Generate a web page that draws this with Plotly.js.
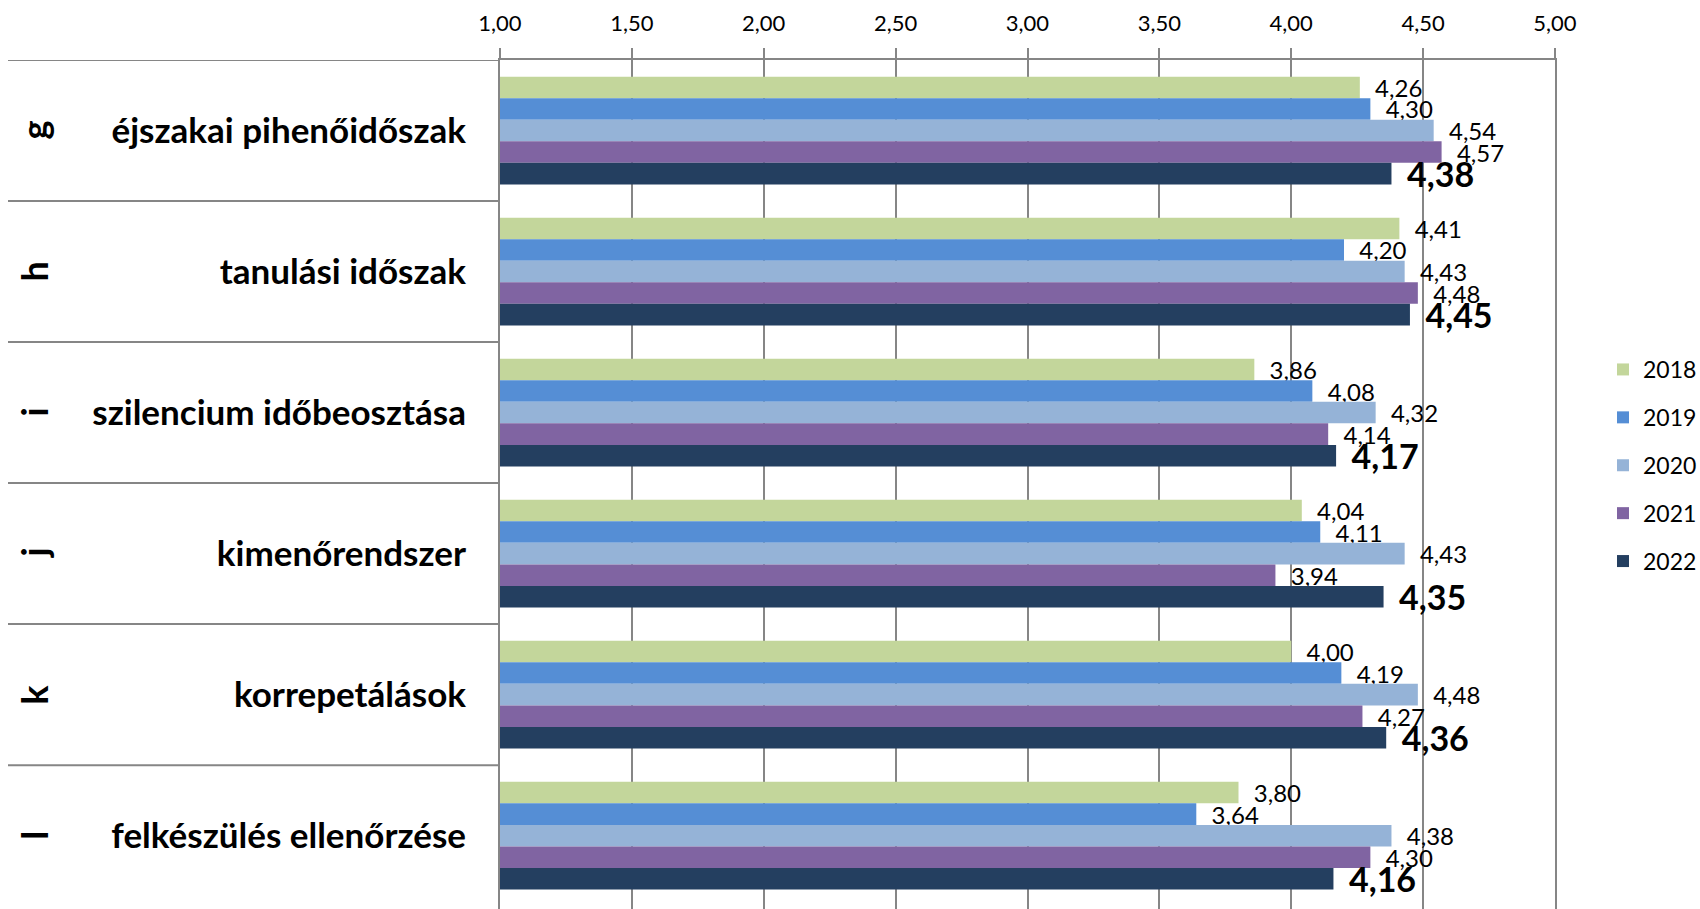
<!DOCTYPE html>
<html>
<head>
<meta charset="utf-8">
<script src="https://cdn.plot.ly/plotly-3.0.1.min.js"></script>
<style>html,body{margin:0;padding:0;background:#fff}#chart{width:1700px;height:909px}</style>
</head>
<body>
<div id="chart"></div>
<script>
const categories = ['éjszakai pihenőidőszak','tanulási időszak','szilencium időbeosztása','kimenőrendszer','korrepetálások','felkészülés ellenőrzése'];
const letters = ['g','h','i','j','k','l'];
const years = ['2018','2019','2020','2021','2022'];
const v2018 = [4.26,4.41,3.86,4.04,4.00,3.80];
const v2019 = [4.30,4.20,4.08,4.11,4.19,3.64];
const v2020 = [4.54,4.43,4.32,4.43,4.48,4.38];
const v2021 = [4.57,4.48,4.14,3.94,4.27,4.30];
const v2022 = [4.38,4.45,4.17,4.35,4.36,4.16];
const xTicks = [1.0,1.5,2.0,2.5,3.0,3.5,4.0,4.5,5.0];

const series = [v2018, v2019, v2020, v2021, v2022];
const colors = ['#C3D69B','#558ED5','#95B3D7','#8064A2','#243F60'];
const FONT = 'Lato, "Open Sans", sans-serif';
const GREY = '#868686';

const traces = series.map((vals, i) => {
  const last = i === series.length - 1;
  return {
    type: 'bar', orientation: 'h',
    name: years[i], legendgroup: years[i],
    x: vals, y: categories,
    marker: {color: colors[i]},
    texttemplate: last ? '\u00a0\u2009%{x:.2f}' : '\u00a0\u00a0%{x:.2f}',
    textposition: 'outside',
    constraintext: 'none',
    cliponaxis: false,
    textfont: last ? {family: FONT, size: 34, color: '#000', weight: 'bold'} : {family: FONT, size: 24, color: '#000'},
    hoverinfo: 'skip'
  };
});

const W = 1700, H = 909, T = 60;
const yRange = [5.52, -0.5];

// category separators in the label area (Excel style), at category boundaries
const shapes = categories.map((_, i) => ({
  type: 'line', xref: 'paper', yref: 'y',
  x0: 8 / W, x1: 500 / W, y0: i - 0.5, y1: i - 0.5,
  line: {color: GREY, width: 2}, layer: 'below'
}));

// rotated group letters
const annotations = letters.map((l, i) => ({
  text: '<b>' + l + '</b>', xref: 'paper', yref: 'y',
  x: 34 / W, y: i, xanchor: 'center', yanchor: 'middle',
  textangle: -90, showarrow: false,
  font: {family: FONT, size: 36, color: '#000'}
}));

const layout = {
  width: W, height: H,
  margin: {l: 0, r: 0, t: T, b: 0, autoexpand: false},
  paper_bgcolor: '#fff', plot_bgcolor: '#fff',
  separators: ', ',
  barmode: 'group', bargap: 0.236, bargroupgap: 0,
  font: {family: FONT, color: '#000'},
  showlegend: true,
  legend: {
    x: 1603 / W, xanchor: 'left', y: 1 - (348 - T) / (H - T), yanchor: 'top',
    font: {family: FONT, size: 23, color: '#000'},
    tracegroupgap: 15, bgcolor: 'rgba(0,0,0,0)', borderwidth: 0
  },
  shapes: shapes,
  annotations: annotations,
  xaxis: {
    domain: [500 / W, 1555 / W],
    side: 'top', range: [1, 5],
    tickmode: 'array', tickvals: xTicks, tickformat: '.2f',
    ticks: 'outside', ticklen: 10, tickwidth: 2, tickcolor: GREY,
    ticklabelstandoff: 8,
    showgrid: true, gridcolor: GREY, gridwidth: 2,
    showline: true, linecolor: GREY, linewidth: 2,
    zeroline: false,
    tickfont: {family: FONT, size: 22, color: '#000'},
    fixedrange: true
  },
  yaxis: {
    type: 'category', categoryorder: 'array', categoryarray: categories,
    range: yRange,
    ticks: '', showgrid: false, zeroline: false,
    showline: true, mirror: true, linecolor: GREY, linewidth: 2,
    ticklabelstandoff: 25,
    tickfont: {family: FONT, size: 35, color: '#000', weight: 'bold'},
    fixedrange: true
  }
};

Plotly.newPlot('chart', traces, layout, {displayModeBar: false, staticPlot: true});
</script>
</body>
</html>
